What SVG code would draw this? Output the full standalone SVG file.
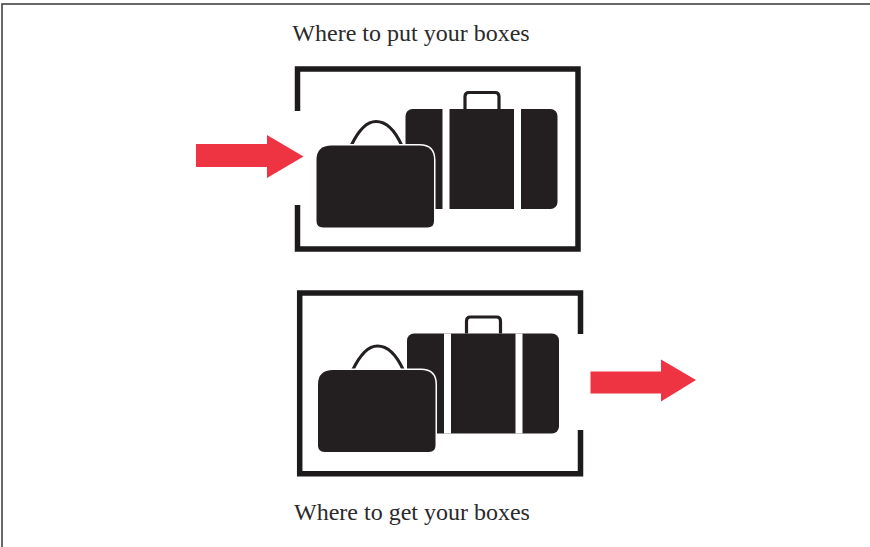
<svg xmlns="http://www.w3.org/2000/svg" width="870" height="547" viewBox="0 0 870 547">
<style>
.frame{fill:none;stroke:#1c1a1b;stroke-width:5.5}
.border{fill:none;stroke:#444;stroke-width:1.6}
.ink{fill:#231f20}
.strap{fill:#fff}
.hnd{fill:none;stroke:#231f20;stroke-width:3.2}
.halo{fill:#231f20;stroke:#fff;stroke-width:3;paint-order:stroke}
.arrow{fill:#ee3342}
text{font-family:"Liberation Serif","Times New Roman",serif;font-size:24px;fill:#2a2a2a;text-anchor:middle}
</style>
<defs>
<g id="luggage">
<path class="hnd" d="M59.500 18V5.500Q59.500 1.500 63.500 1.500H89.500Q93.500 1.500 93.500 5.500V18"/>
<rect class="ink" x="0" y="18" width="152" height="100" rx="7"/>
<rect class="strap" x="37" y="18" width="7" height="100"/>
<rect class="strap" x="108.500" y="18" width="7" height="100"/>
<path class="hnd" d="M-54.500 55C-46 37-38 30.500-29.500 30.500C-21 30.500-11.500 37-3.500 55"/>
<path class="halo" d="M-74 54.500H14Q28.500 54.500 28.500 69V130Q28.500 136.500 22 136.500H-82.500Q-89 136.500-89 130V69Q-89 54.500-74 54.500Z"/>
</g>
</defs>
<rect class="border" x="2" y="4" width="870" height="546"/>
<g id="top-label"><text x="411" y="41">Where to put your boxes</text></g>
<g id="top-storage">
<path class="frame" d="M297.500 111V69H578V249H297.500V205"/>
<use href="#luggage" x="405.500" y="91"/>
</g>
<g id="bottom-storage">
<path class="frame" d="M580.500 334V293H299.700V473.700H580.500V430"/>
<use href="#luggage" x="407" y="315.500"/>
</g>
<g id="bottom-label"><text x="412" y="520">Where to get your boxes</text></g>
<g id="connectors">
<polygon class="arrow" points="196,144 267,144 267,135 303.500,156.500 267,178 267,167 196,167"/>
<polygon class="arrow" points="590.500,371.500 661,371.500 661,359.500 696,380 661,401.500 661,393.500 590.500,393.500"/>
</g>
</svg>
